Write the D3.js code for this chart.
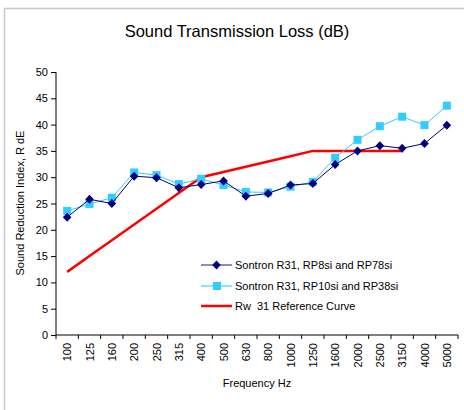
<!DOCTYPE html>
<html>
<head>
<meta charset="utf-8">
<script src="https://cdn.jsdelivr.net/npm/d3@7"></script>
<style>
body { margin: 0; background: #fff; }
svg { font-family: "Liberation Sans", Arial, sans-serif; }
</style>
</head>
<body>
<svg width="464" height="410"></svg>
<script>
var frequencies = ["100", "125", "160", "200", "250", "315", "400", "500", "630", "800",
  "1000", "1250", "1600", "2000", "2500", "3150", "4000", "5000"];
var rp8Values = [22.4, 25.8, 25.0, 30.2, 29.9, 28.0, 28.6, 29.3, 26.4, 26.9,
  28.5, 28.8, 32.4, 35.0, 36.0, 35.5, 36.4, 39.9];
var rp10Values = [23.6, 24.9, 26.1, 30.9, 30.4, 28.7, 29.7, 28.5, 27.2, 27.1,
  28.2, 29.1, 33.7, 37.1, 39.7, 41.5, 39.9, 43.6];
var refValues = [12, 15, 18, 21, 24, 27, 30, 31, 32, 33, 34, 35, 35, 35, 35, 35];
var yTicks = [0, 5, 10, 15, 20, 25, 30, 35, 40, 45, 50];
var seriesNames = ["Sontron R31, RP8si and RP78si", "Sontron R31, RP10si and RP38si", "Rw  31 Reference Curve"];

var svg = d3.select("svg");

// outer frame (only top and left edges visible)
svg.append("path")
  .attr("d", "M4.5,410 L4.5,8.5 L464,8.5")
  .attr("fill", "none")
  .attr("stroke", "#c8c8c8")
  .attr("stroke-width", 1.5);

var plotLeft = 56, plotTop = 72, plotRight = 458, plotBottom = 335;

var xScale = d3.scaleBand().domain(frequencies).range([plotLeft, plotRight]);
var yScale = d3.scaleLinear().domain([0, 50]).range([plotBottom, plotTop]);

svg.append("text")
  .attr("x", 237).attr("y", 37)
  .attr("text-anchor", "middle")
  .attr("font-size", 16.5)
  .text("Sound Transmission Loss (dB)");

// y axis
var yAxis = svg.append("g")
  .attr("transform", "translate(" + plotLeft + ",0)")
  .call(d3.axisLeft(yScale).tickValues(yTicks).tickSize(5).tickPadding(3));
yAxis.selectAll("text").attr("font-size", 11).attr("fill", "#000").attr("font-family", "Liberation Sans, Arial, sans-serif");
yAxis.select(".domain").attr("d", "M0," + plotBottom + "V" + plotTop);

// x axis with ticks on category boundaries
var xAxis = svg.append("g")
  .attr("transform", "translate(0," + plotBottom + ")");
xAxis.append("line").attr("x1", plotLeft).attr("x2", plotRight).attr("stroke", "#000");
var bounds = frequencies.map(function (d) { return xScale(d); }).concat([plotRight]);
xAxis.selectAll(".tk").data(bounds).enter().append("line")
  .attr("x1", function (d) { return d; }).attr("x2", function (d) { return d; })
  .attr("y1", 0).attr("y2", 4).attr("stroke", "#000");
xAxis.selectAll(".lbl").data(frequencies).enter().append("text")
  .attr("transform", function (d) {
    return "translate(" + (xScale(d) + xScale.bandwidth() / 2 + 4) + ",8) rotate(-90)";
  })
  .attr("text-anchor", "end")
  .attr("font-size", 11)
  .text(function (d) { return d; });

svg.append("text")
  .attr("x", 257).attr("y", 387)
  .attr("text-anchor", "middle")
  .attr("font-size", 11)
  .text("Frequency Hz");

svg.append("text")
  .attr("transform", "translate(24,203) rotate(-90)")
  .attr("text-anchor", "middle")
  .attr("font-size", 11)
  .text("Sound Reduction Index, R dE");

function cx(i) { return xScale(frequencies[i]) + xScale.bandwidth() / 2; }
var line = d3.line()
  .x(function (d, i) { return cx(i); })
  .y(function (d) { return yScale(d); });

// reference curve
svg.append("path").datum(refValues)
  .attr("d", line).attr("fill", "none")
  .attr("stroke", "#ff0000").attr("stroke-width", 2.5);

// light blue squares
svg.append("path").datum(rp10Values)
  .attr("d", line).attr("fill", "none")
  .attr("stroke", "#33ccff").attr("stroke-width", 1);
svg.selectAll(".sq").data(rp10Values).enter().append("rect")
  .attr("x", function (d, i) { return cx(i) - 4; })
  .attr("y", function (d) { return yScale(d) - 4; })
  .attr("width", 8).attr("height", 8)
  .attr("fill", "#33ccff");

// navy diamonds
svg.append("path").datum(rp8Values)
  .attr("d", line).attr("fill", "none")
  .attr("stroke", "#000080").attr("stroke-width", 1);
var diamond = "M0,-4.5L4.3,0L0,4.5L-4.3,0Z";
svg.selectAll(".dm").data(rp8Values).enter().append("path")
  .attr("transform", function (d, i) { return "translate(" + cx(i) + "," + yScale(d) + ")"; })
  .attr("d", diamond)
  .attr("fill", "#000080");

// legend
var legend = svg.append("g").attr("transform", "translate(201,0)");
var rowsY = [265, 286, 306];
legend.append("line").attr("x1", 0).attr("x2", 31).attr("y1", rowsY[0]).attr("y2", rowsY[0])
  .attr("stroke", "#6666aa").attr("stroke-width", 1.5);
legend.append("path").attr("transform", "translate(15.5," + rowsY[0] + ")")
  .attr("d", diamond).attr("fill", "#000080");
legend.append("line").attr("x1", 0).attr("x2", 31).attr("y1", rowsY[1]).attr("y2", rowsY[1])
  .attr("stroke", "#66ddff").attr("stroke-width", 1.5);
legend.append("rect").attr("x", 12).attr("y", rowsY[1] - 4).attr("width", 8).attr("height", 8)
  .attr("fill", "#33ccff");
legend.append("line").attr("x1", 0).attr("x2", 31).attr("y1", rowsY[2]).attr("y2", rowsY[2])
  .attr("stroke", "#ff0000").attr("stroke-width", 2.5);
legend.selectAll(".lt").data(seriesNames).enter().append("text")
  .attr("x", 34).attr("y", function (d, i) { return rowsY[i] + 4; })
  .attr("font-size", 11)
  .attr("xml:space", "preserve")
  .style("white-space", "pre")
  .text(function (d) { return d; });
</script>
</body>
</html>
